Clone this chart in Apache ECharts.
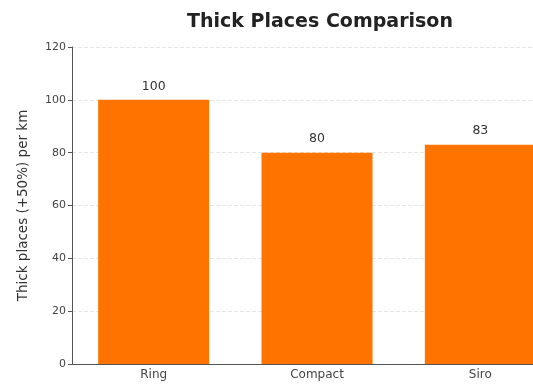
<!DOCTYPE html>
<html lang="en">
<head>
  <meta charset="UTF-8">
  <title>Thick Places Comparison</title>
  <script src="https://cdn.jsdelivr.net/npm/echarts@6/dist/echarts.min.js"></script>
  <style>
    html, body { margin: 0; padding: 0; background: #fff; }
    #main { width: 533px; height: 387px; }
  </style>
</head>
<body>
<div id="main"></div>
<script>
  var categories = ['Ring', 'Compact', 'Siro'];
  var thickPlaces = [100, 80, 83];
  var yTicks = [0, 20, 40, 60, 80, 100, 120];

  var font = 'DejaVu Sans';
  echarts.init(document.querySelector('#main')).setOption({
    animation: false,
    title: {
      text: 'Thick Places Comparison',
      left: 315,
      top: 8,
      textAlign: 'center',
      textStyle: { fontFamily: font, fontSize: 19, fontWeight: 'bold', color: '#222' }
    },
    // the plot runs past the right edge of the picture, as in the reference
    grid: { left: 72, top: 47, width: 490, height: 317, outerBoundsMode: 'none', containLabel: false },
    xAxis: {
      type: 'category',
      data: categories,
      axisLine: { lineStyle: { color: '#555', width: 1 } },
      axisTick: { alignWithLabel: true, length: 4, lineStyle: { color: '#555' } },
      axisLabel: { fontFamily: font, fontSize: 12, color: '#444', margin: 5 }
    },
    yAxis: {
      type: 'value',
      min: yTicks[0],
      max: yTicks[yTicks.length - 1],
      interval: 20,
      name: 'Thick places (+50%) per km',
      nameLocation: 'middle',
      nameGap: 42,
      nameTextStyle: { fontFamily: font, fontSize: 13.5, color: '#333' },
      axisLine: { show: true, lineStyle: { color: '#555', width: 1 } },
      axisTick: { show: true, length: 4, lineStyle: { color: '#555' } },
      axisLabel: { fontFamily: font, fontSize: 11, color: '#444', margin: 6 },
      splitLine: { lineStyle: { color: '#e6e6e6', type: 'dashed', width: 1 } }
    },
    series: [{
      type: 'bar',
      data: thickPlaces,
      barWidth: 111,
      itemStyle: { color: '#ff7400' },
      label: {
        show: true,
        position: 'top',
        distance: 7,
        fontFamily: font,
        fontSize: 12.5,
        color: '#333'
      }
    }]
  });
</script>
</body>
</html>
